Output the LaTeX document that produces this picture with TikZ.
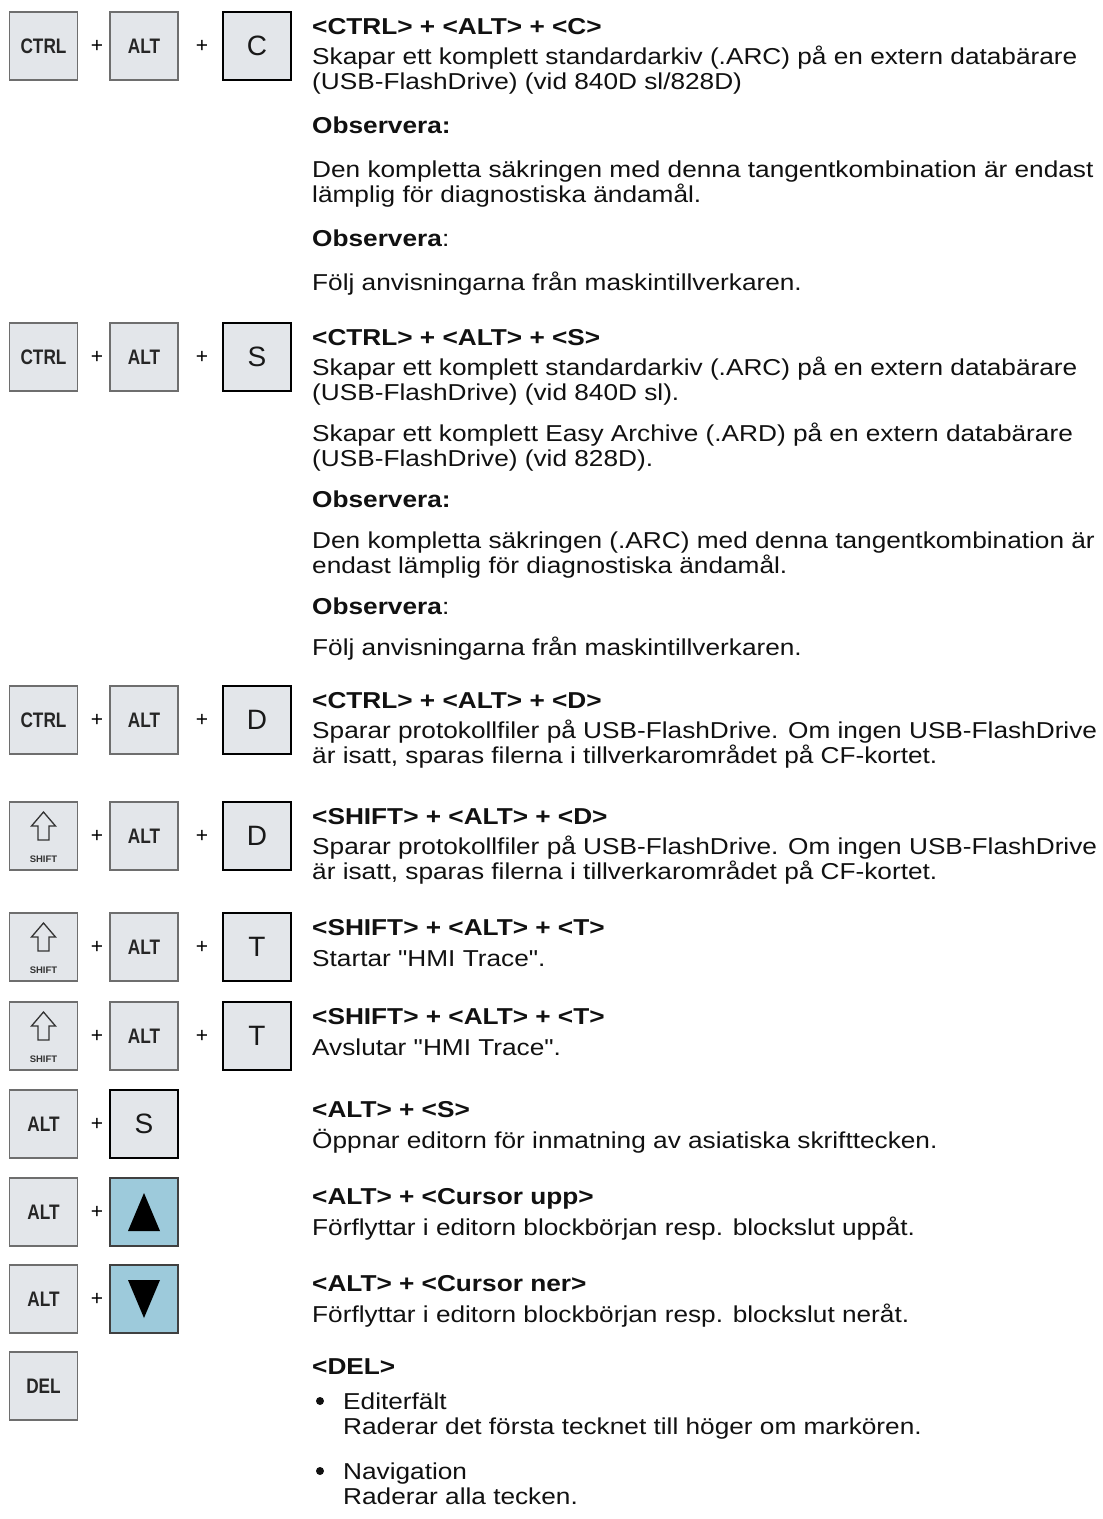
\documentclass[tikz,border=0pt]{standalone}
\usepackage{fontspec}
\setmainfont{Liberation Sans}[FakeStretch=1.14, Ligatures=TeXOff]
\newfontfamily\keyfont[FakeStretch=0.82]{Liberation Sans}
\newfontfamily\plainfont{Liberation Sans}
\definecolor{keyfill}{HTML}{E3E6EA}
\definecolor{keyedge}{HTML}{6E6E6E}
\definecolor{bluefill}{HTML}{9DCADB}
\definecolor{txtcol}{HTML}{111111}
\tikzset{
  keyg/.style={draw=keyedge, fill=keyfill, line width=1.1pt, minimum width=68pt, minimum height=68pt, inner sep=0pt,
     font=\keyfont\bfseries\fontsize{21}{21}\selectfont, text=black!85},
  keyb/.style={draw=black, fill=keyfill, line width=1.5pt, minimum width=68pt, minimum height=68pt, inner sep=0pt,
     font=\plainfont\fontsize{28}{28}\selectfont, text=black!90},
  keyblue/.style={draw=black!75, fill=bluefill, line width=1.1pt, minimum width=68pt, minimum height=68pt, inner sep=0pt},
  plus/.style={inner sep=0pt, font=\plainfont\fontsize{21}{21}\selectfont},
  txt/.style={anchor=base west, inner sep=0pt, font=\fontsize{23}{25}\selectfont, text=txtcol},
  hd/.style={anchor=base west, inner sep=0pt, font=\fontsize{23}{25}\selectfont\bfseries, text=txtcol},
  bul/.style={circle, fill=txtcol, inner sep=0pt, minimum size=8pt},
  shiftarrow/.style={draw=black!80, line width=1.3pt, line join=miter},
  tri/.style={fill=black}
}
\newcommand{\shiftkey}[3]{%
  \node[keyg] (#1) at (#2,#3) {};
  \begin{scope}[shift={(#2,#3)}]
    \draw[shiftarrow] (0,-24) -- (12,-10) -- (5.5,-10) -- (5.5,4) -- (-5.5,4) -- (-5.5,-10) -- (-12,-10) -- cycle;
    \node[inner sep=0pt, font=\plainfont\bfseries\fontsize{9.5}{9.5}\selectfont, text=black!80] (#1lbl) at (0,23) {SHIFT};
  \end{scope}}
\begin{document}
\begin{tikzpicture}[x=1pt,y=-1pt]
\fill[white] (0,0) rectangle (1103,1519);
\useasboundingbox (0,0) rectangle (1103,1519);

% ---------- keys ----------
% row 1
\node[keyg] (k1a) at (43.5,46) {CTRL};
\node[plus] (p1a) at (97,46) {+};
\node[keyg] (k1b) at (144,46) {ALT};
\node[plus] (p1b) at (202,46) {+};
\node[keyb] (k1c) at (257,46) {C};
% row 2
\node[keyg] (k2a) at (43.5,357) {CTRL};
\node[plus] (p2a) at (97,357) {+};
\node[keyg] (k2b) at (144,357) {ALT};
\node[plus] (p2b) at (202,357) {+};
\node[keyb] (k2c) at (257,357) {S};
% row 3
\node[keyg] (k3a) at (43.5,720) {CTRL};
\node[plus] (p3a) at (97,720) {+};
\node[keyg] (k3b) at (144,720) {ALT};
\node[plus] (p3b) at (202,720) {+};
\node[keyb] (k3c) at (257,720) {D};
% row 4
\shiftkey{k4a}{43.5}{836}
\node[plus] (p4a) at (97,836) {+};
\node[keyg] (k4b) at (144,836) {ALT};
\node[plus] (p4b) at (202,836) {+};
\node[keyb] (k4c) at (257,836) {D};
% row 5
\shiftkey{k5a}{43.5}{947}
\node[plus] (p5a) at (97,947) {+};
\node[keyg] (k5b) at (144,947) {ALT};
\node[plus] (p5b) at (202,947) {+};
\node[keyb] (k5c) at (257,947) {T};
% row 6
\shiftkey{k6a}{43.5}{1036}
\node[plus] (p6a) at (97,1036) {+};
\node[keyg] (k6b) at (144,1036) {ALT};
\node[plus] (p6b) at (202,1036) {+};
\node[keyb] (k6c) at (257,1036) {T};
% row 7
\node[keyg] (k7a) at (43.5,1124) {ALT};
\node[plus] (p7a) at (97,1124) {+};
\node[keyb] (k7b) at (144,1124) {S};
% row 8
\node[keyg] (k8a) at (43.5,1212) {ALT};
\node[plus] (p8a) at (97,1212) {+};
\node[keyblue] (k8b) at (144,1212) {};
\fill[tri] (144,1193) -- (160,1231) -- (128,1231) -- cycle;
% row 9
\node[keyg] (k9a) at (43.5,1299) {ALT};
\node[plus] (p9a) at (97,1299) {+};
\node[keyblue] (k9b) at (144,1299) {};
\fill[tri] (144,1318) -- (160,1280) -- (128,1280) -- cycle;
% row 10
\node[keyg] (k10a) at (43.5,1386) {DEL};

% ---------- texts ----------
\node[hd] (h1) at (312,34) {<CTRL> + <ALT> + <C>};
\node[txt] (t1a) at (312,64) {Skapar ett komplett standardarkiv (.ARC) på en extern databärare};
\node[txt] (t1b) at (312,89) {(USB-FlashDrive) (vid 840D sl/828D)};
\node[hd] (t1c) at (312,133) {Observera:};
\node[txt] (t1d) at (312,177) {Den kompletta säkringen med denna tangentkombination är endast};
\node[txt] (t1e) at (312,202) {lämplig för diagnostiska ändamål.};
\node[txt] (t1f) at (312,246) {\textbf{Observera}:};
\node[txt] (t1g) at (312,290) {Följ anvisningarna från maskintillverkaren.};

\node[hd] (h2) at (312,345) {<CTRL> + <ALT> + <S>};
\node[txt] (t2a) at (312,375) {Skapar ett komplett standardarkiv (.ARC) på en extern databärare};
\node[txt] (t2b) at (312,400) {(USB-FlashDrive) (vid 840D sl).};
\node[txt] (t2c) at (312,441) {Skapar ett komplett Easy Archive (.ARD) på en extern databärare};
\node[txt] (t2d) at (312,466) {(USB-FlashDrive) (vid 828D).};
\node[hd] (t2e) at (312,507) {Observera:};
\node[txt] (t2f) at (312,548) {Den kompletta säkringen (.ARC) med denna tangentkombination är};
\node[txt] (t2g) at (312,573) {endast lämplig för diagnostiska ändamål.};
\node[txt] (t2h) at (312,614) {\textbf{Observera}:};
\node[txt] (t2i) at (312,655) {Följ anvisningarna från maskintillverkaren.};

\node[hd] (h3) at (312,708) {<CTRL> + <ALT> + <D>};
\node[txt] (t3a) at (312,738) {Sparar protokollfiler på USB-FlashDrive. Om ingen USB-FlashDrive};
\node[txt] (t3b) at (312,763) {är isatt, sparas filerna i tillverkarområdet på CF-kortet.};

\node[hd] (h4) at (312,824) {<SHIFT> + <ALT> + <D>};
\node[txt] (t4a) at (312,854) {Sparar protokollfiler på USB-FlashDrive. Om ingen USB-FlashDrive};
\node[txt] (t4b) at (312,879) {är isatt, sparas filerna i tillverkarområdet på CF-kortet.};

\node[hd] (h5) at (312,935) {<SHIFT> + <ALT> + <T>};
\node[txt] (t5a) at (312,966) {Startar "HMI Trace".};

\node[hd] (h6) at (312,1024) {<SHIFT> + <ALT> + <T>};
\node[txt] (t6a) at (312,1055) {Avslutar "HMI Trace".};

\node[hd] (h7) at (312,1117) {<ALT> + <S>};
\node[txt] (t7a) at (312,1148) {Öppnar editorn för inmatning av asiatiska skrifttecken.};

\node[hd] (h8) at (312,1204) {<ALT> + <Cursor upp>};
\node[txt] (t8a) at (312,1235) {Förflyttar i editorn blockbörjan resp. blockslut uppåt.};

\node[hd] (h9) at (312,1291) {<ALT> + <Cursor ner>};
\node[txt] (t9a) at (312,1322) {Förflyttar i editorn blockbörjan resp. blockslut neråt.};

\node[hd] (h10) at (312,1374) {<DEL>};
\node[bul] (b1) at (320,1401) {};
\node[txt] (t10a) at (343,1409) {Editerfält};
\node[txt] (t10b) at (343,1434) {Raderar det första tecknet till höger om markören.};
\node[bul] (b2) at (320,1471) {};
\node[txt] (t10c) at (343,1479) {Navigation};
\node[txt] (t10d) at (343,1504) {Raderar alla tecken.};
\end{tikzpicture}
\end{document}
